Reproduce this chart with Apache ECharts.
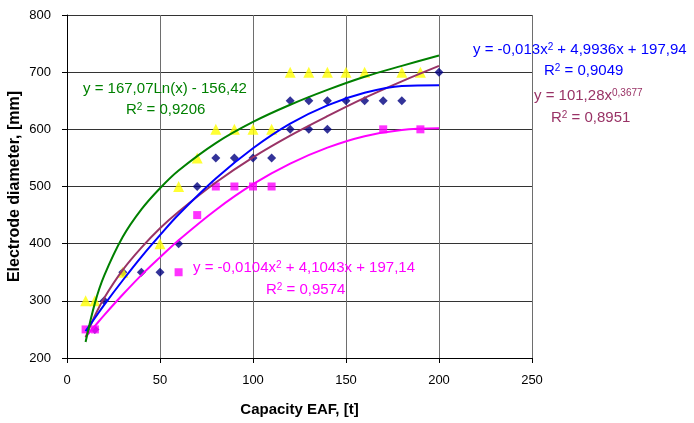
<!DOCTYPE html>
<html>
<head>
<meta charset="utf-8">
<script src="https://cdn.jsdelivr.net/npm/echarts@6/dist/echarts.min.js"></script>
<style>
    html, body { margin: 0; padding: 0; background: #fff; }
    #chart { width: 694px; height: 423px; }
</style>
</head>
<body>
<div id="chart"></div>
<script>
const diamondX = [15, 20, 30, 40, 50, 60, 70, 80, 90, 100, 110, 120, 120, 130, 130, 140, 140, 150, 160, 170, 180, 200];
const diamondY = [250, 300, 350, 350, 350, 400, 500, 550, 550, 550, 550, 600, 650, 600, 650, 600, 650, 650, 650, 650, 650, 700];
const squareX = [10, 15, 60, 70, 80, 90, 100, 110, 170, 190];
const squareY = [250, 250, 350, 450, 500, 500, 500, 500, 600, 600];
const triangleX = [10, 15, 30, 50, 60, 70, 80, 90, 100, 110, 120, 130, 140, 150, 160, 180, 190];
const triangleY = [300, 300, 350, 400, 500, 550, 600, 600, 600, 600, 700, 700, 700, 700, 700, 700, 700];

// trend lines, sampled along the drawn curves
const trendX = [10, 15, 20, 30, 40, 50, 60, 80, 100, 120, 140, 160, 180, 200];
const logTrend = [228, 296, 344, 412, 460, 497, 528, 576, 613, 643, 669, 692, 711, 729];
const polyBlueTrend = [247, 270, 293, 336, 377, 415, 451, 514, 567, 610, 642, 664, 676, 677];
const powerTrend = [236, 274, 305, 354, 393, 427, 456, 507, 551, 589, 623, 655, 684, 711];
const polyPinkTrend = [237, 256, 275, 311, 345, 376, 406, 459, 504, 540, 568, 588, 599, 602];

const xTicks = [0, 50, 100, 150, 200, 250];
const yTicks = [200, 300, 400, 500, 600, 700, 800];

const FONT = '"Liberation Sans", Arial, sans-serif';

const zip = (xs, ys) => xs.map((x, i) => [x, ys[i]]);

/**
 * 趋势线方程文字
 */
const eqText = (left, top, parts, color) => ({
    type: 'text',
    left: left,
    top: top,
    z: 100,
    style: {
        text: parts,
        fill: color,
        font: '15px ' + FONT,
        rich: {
            n: { fontSize: 15, fontFamily: FONT, fill: color, verticalAlign: 'bottom' },
            s: { fontSize: 10, fontFamily: FONT, fill: color, verticalAlign: 'top' }
        }
    }
});

const chart = echarts.init(document.getElementById('chart'));

const trendLine = (data, color) => ({
    type: 'line',
    data: zip(trendX, data),
    smooth: 0.35,
    showSymbol: false,
    symbol: 'none',
    z: 5,
    lineStyle: { color: color, width: 2 },
    silent: true
});

const option = {
    animation: false,
    backgroundColor: '#fff',
    grid: { left: 67, right: 162, top: 15, bottom: 65, containLabel: false, outerBoundsMode: 'none' },
    xAxis: {
        type: 'value',
        min: xTicks[0],
        max: xTicks[xTicks.length - 1],
        interval: 50,
        name: 'Capacity EAF, [t]',
        nameLocation: 'middle',
        nameGap: 44,
        nameMoveOverlap: false,
        nameTextStyle: { fontFamily: FONT, fontSize: 15, fontWeight: 'bold', color: '#000' },
        axisLine: { onZero: false, lineStyle: { color: '#000', width: 1 } },
        axisTick: { show: true, length: 5, lineStyle: { color: '#000' } },
        axisLabel: { fontFamily: FONT, fontSize: 13, color: '#000', margin: 16 },
        splitLine: { show: true, lineStyle: { color: '#6e6e6e', width: 1 } }
    },
    yAxis: {
        type: 'value',
        min: yTicks[0],
        max: yTicks[yTicks.length - 1],
        interval: 100,
        name: 'Electrode diameter, [mm]',
        nameLocation: 'middle',
        nameRotate: 90,
        nameGap: 44,
        nameMoveOverlap: false,
        nameTextStyle: { fontFamily: FONT, fontSize: 16, fontWeight: 'bold', color: '#000' },
        axisLine: { onZero: false, lineStyle: { color: '#000', width: 1 } },
        axisTick: { show: true, length: 5, lineStyle: { color: '#000' } },
        axisLabel: { fontFamily: FONT, fontSize: 13, color: '#000', margin: 16 },
        splitLine: { show: true, lineStyle: { color: '#333', width: 1 } }
    },
    series: [
        {
            type: 'scatter',
            symbol: 'diamond',
            symbolSize: 9,
            z: 2,
            itemStyle: { color: '#000080' },
            data: zip(diamondX, diamondY)
        },
        {
            type: 'scatter',
            symbol: 'rect',
            symbolSize: 8,
            z: 3,
            itemStyle: { color: '#ff00ff' },
            data: zip(squareX, squareY)
        },
        {
            type: 'scatter',
            symbol: 'triangle',
            symbolSize: 11,
            z: 4,
            itemStyle: { color: '#ffff00' },
            data: zip(triangleX, triangleY)
        },
        trendLine(polyPinkTrend, '#ff00ff'),
        trendLine(powerTrend, '#993366'),
        trendLine(polyBlueTrend, '#0000ff'),
        trendLine(logTrend, '#008000')
    ],
    graphic: [
        eqText(83, 81, 'y = 167,07Ln(x) - 156,42', '#008000'),
        eqText(126, 102, '{n|R}{s|2}{n| = 0,9206}', '#008000'),
        eqText(473, 42, '{n|y = -0,013x}{s|2}{n| + 4,9936x + 197,94}', '#0000ff'),
        eqText(544, 63, '{n|R}{s|2}{n| = 0,9049}', '#0000ff'),
        eqText(534, 88, '{n|y = 101,28x}{s|0,3677}', '#993366'),
        eqText(551, 110, '{n|R}{s|2}{n| = 0,8951}', '#993366'),
        eqText(193, 260, '{n|y = -0,0104x}{s|2}{n| + 4,1043x + 197,14}', '#ff00ff'),
        eqText(266, 282, '{n|R}{s|2}{n| = 0,9574}', '#ff00ff')
    ]
};

chart.setOption(option);
</script>
</body>
</html>
